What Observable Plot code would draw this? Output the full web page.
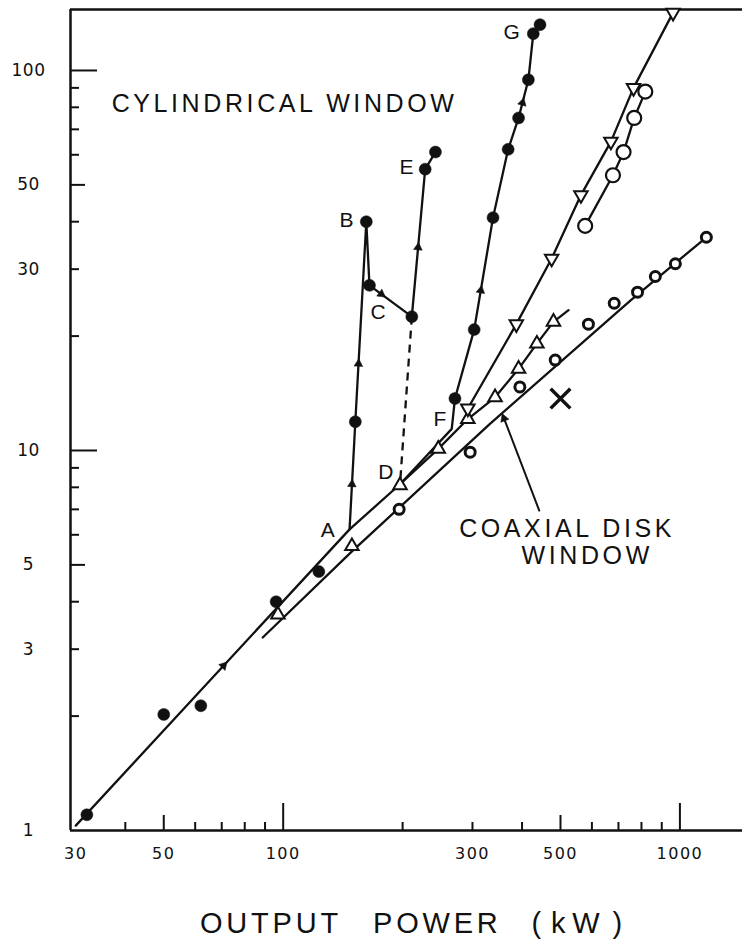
<!DOCTYPE html>
<html>
<head>
<meta charset="utf-8">
<script src="https://cdn.jsdelivr.net/npm/d3@7"></script>
<script src="https://cdn.jsdelivr.net/npm/@observablehq/plot@0.6"></script>
<style>
html,body{margin:0;padding:0;background:#fff;}
#wrap{position:relative;width:742px;height:942px;overflow:hidden;background:#fff;}
#xtitle{position:absolute;top:909px;left:200px;font-family:"Liberation Sans",Arial,sans-serif;font-size:29px;line-height:29px;color:#111;white-space:nowrap;letter-spacing:3.8px;}
#xtitle span{display:inline-block;}
</style>
</head>
<body>
<div id="wrap"><div id="chart"></div><div id="xtitle"><span>OUTPUT</span><span style="margin-left:31px">POWER</span><span style="margin-left:30px">(</span><span style="margin-left:6px">k</span><span style="margin-left:3px">W</span><span style="margin-left:9px">)</span></div></div>
<script>
// ---------- data (output power kW, y value) ----------
const cylLine = [[30,1.03],[147,6.2],[197,8.15],[266,11.4],[271,13.7],[303,20.8],[338,41],[369,62],[392,75],[415,94.5],[427,125],[444,132]];
const branchLine = [[147,6.2],[152,11.9],[162,40],[165,27.2],[211,22.5],[228,55],[242,61]];
const dashLine = [[211,22.5],[197,8.15]];
const upTriLine = [[197,8.15],[246,10.1],[292,12.1],[342,13.8],[392,16.4],[436,19.1],[480,21.8],[524,23.4]];
const downTriLine = [[292,12.9],[387,21.5],[475,32],[563,47],[670,65],[764,90],[961,142]];
const openCircleLine = [[577,39],[678,53],[721,61],[767,75],[818,88]];
const coaxLine = [[88.8,3.22],[148.6,5.41],[332,11.75],[750,24.8],[1166,36.4]];
const pointerLine = [[442,6.95],[358,12.36]];

const filledDots = [[32,1.1],[50,2.02],[62,2.13],[96,4.0],[123,4.8],[152,11.9],[162,40],[165,27.2],[211,22.5],[228,55],[242,61],[271,13.7],[303,20.8],[338,41],[369,62],[392,75],[415,94.5],[427,125],[444,132]];
const upTriDots = [[97,3.7],[149,5.6],[197,8.1],[246,10.1],[292,12.1],[342,13.8],[392,16.4],[436,19.1],[480,21.8]];
const downTriDots = [[292,12.9],[387,21.5],[475,32],[563,47],[670,65],[764,90],[961,142]];
const openCircleDots = [[577,39],[678,53],[721,61],[767,75],[818,88]];
const coaxDots = [[196,7.0],[296,9.9],[395,14.7],[485,17.3],[588,21.5],[683,24.4],[782,26.1],[867,28.7],[974,31],[1166,36.4]];
const crossDots = [[500,13.7]];

// direction arrowheads: [line, segment index, fraction along segment]
const arrowSpecs = [["cyl",0,0.54],["branch",0,0.42],["branch",1,0.29],["branch",3,0.28],["branch",4,0.47],["cyl",5,0.35],["cyl",8,0.4],["pointer",0,0.97]];

const letterLabels = [["A",129.5,6.16],["B",144.4,40.3],["C",173.5,23.1],["D",181.4,8.77],["E",204.7,55.7],["F",248.4,12.1],["G",376.8,126.2]];
const textLabels = [["CYLINDRICAL WINDOW",100.8,81.4],["COAXIAL DISK",519.6,6.23],["WINDOW",583.8,5.29]];

const xTickLabels = [30,50,100,300,500,1000];
const yTickLabels = [1,3,5,10,30,50,100];
const xTicksLong = [100,1000], xTicksMed = [50,500], xTicksSmall = [40,60,70,80,90,200,300,400,600,700,800,900];
const yTicksLong = [10,100], yTicksMed = [5,50], yTicksSmall = [2,3,4,6,7,8,9,20,30,40,60,70,80,90];

// ---------- layout ----------
const W = 742, H = 880, mL = 70, mR = 0, mT = 9, mB = 50;
const xDom = [29.1, 1438], yDom = [1, 144.7];
const plotW = W - mL - mR, plotH = H - mT - mB;
const kx = plotW / Math.log10(xDom[1] / xDom[0]);
const ky = plotH / Math.log10(yDom[1] / yDom[0]);

const toObj = a => a.map(([x, y]) => ({x, y}));
const lines = {cyl: cylLine, branch: branchLine, pointer: pointerLine};
const arrowHeads = arrowSpecs.map(([name, i, t]) => {
  const [x0, y0] = lines[name][i], [x1, y1] = lines[name][i + 1];
  const x = x0 * Math.pow(x1 / x0, t), y = y0 * Math.pow(y1 / y0, t);
  const dxp = kx * Math.log10(x1 / x0), dyp = -ky * Math.log10(y1 / y0);
  return {x, y, angle: Math.atan2(dxp, -dyp) * 180 / Math.PI};
});

const LINE = {x: "x", y: "y", stroke: "#111", strokeWidth: 2.3, strokeLinejoin: "round", strokeLinecap: "round"};
const NUMFONT = "DejaVu Sans";
const TXTFONT = "Liberation Sans";

const plot = Plot.plot({
  width: W, height: H,
  marginLeft: mL, marginRight: mR, marginTop: mT, marginBottom: mB,
  x: {type: "log", domain: xDom, axis: null},
  y: {type: "log", domain: yDom, axis: null},
  style: {background: "white", overflow: "visible"},
  marks: [
    // frame
    Plot.ruleY([yDom[1]], {stroke: "#111", strokeWidth: 2.5}),
    Plot.ruleY([yDom[0]], {stroke: "#111", strokeWidth: 2.5}),
    Plot.ruleX([xDom[0]], {stroke: "#111", strokeWidth: 2.5}),
    // inward ticks
    Plot.ruleX(xTicksLong, {stroke: "#111", strokeWidth: 2, insetTop: plotH - 27}),
    Plot.ruleX(xTicksMed, {stroke: "#111", strokeWidth: 2, insetTop: plotH - 15}),
    Plot.ruleX(xTicksSmall, {stroke: "#111", strokeWidth: 2, insetTop: plotH - 8}),
    Plot.ruleY(yTicksLong, {stroke: "#111", strokeWidth: 2, insetRight: plotW - 27}),
    Plot.ruleY(yTicksMed, {stroke: "#111", strokeWidth: 2, insetRight: plotW - 15}),
    Plot.ruleY(yTicksSmall, {stroke: "#111", strokeWidth: 2, insetRight: plotW - 9}),
    // tick labels (text group 0 and 1)
    Plot.text(xTickLabels, {x: d => d, y: () => yDom[0], dy: 23, text: d => String(d), fontFamily: NUMFONT, fontSize: 16, fill: "#111"}),
    Plot.text(yTickLabels, {x: () => xDom[0], y: d => d, dx: -42, text: d => String(d), fontFamily: NUMFONT, fontSize: 17, fill: "#111", textAnchor: "middle"}),
    // lines
    Plot.line(toObj(cylLine), LINE),
    Plot.line(toObj(branchLine), LINE),
    Plot.line(toObj(dashLine), {...LINE, strokeDasharray: "8,6", strokeLinecap: "butt"}),
    Plot.line(toObj(upTriLine), LINE),
    Plot.line(toObj(downTriLine), LINE),
    Plot.line(toObj(openCircleLine), LINE),
    Plot.line(toObj(coaxLine), LINE),
    Plot.line(toObj(pointerLine), {...LINE, strokeWidth: 2}),
    // markers
    Plot.dot(toObj(coaxDots), {x: "x", y: "y", r: 5, stroke: "#111", strokeWidth: 3, fill: "white"}),
    Plot.dot(toObj(openCircleDots), {x: "x", y: "y", r: 7, stroke: "#111", strokeWidth: 2.2, fill: "white"}),
    Plot.dot(toObj(upTriDots), {x: "x", y: "y", symbol: "triangle", r: 5, stroke: "#111", strokeWidth: 2, fill: "white"}),
    Plot.dot(toObj(downTriDots), {x: "x", y: "y", symbol: "triangle", r: 5, rotate: 180, stroke: "#111", strokeWidth: 2, fill: "white"}),
    Plot.dot(toObj(filledDots), {x: "x", y: "y", r: 6, fill: "#111", stroke: "#111", strokeWidth: 0.5}),
    Plot.dot(toObj(crossDots), {x: "x", y: "y", symbol: "times", r: 9, stroke: "#111", strokeWidth: 3.5}),
    Plot.dot(arrowHeads, {x: "x", y: "y", symbol: "triangle", r: 3.2, rotate: "angle", fill: "#111", stroke: "#111", strokeWidth: 0.5}),
    // annotations (text group 2 and 3)
    Plot.text(letterLabels, {x: d => d[1], y: d => d[2], text: d => d[0], fontFamily: TXTFONT, fontSize: 21, fill: "#111"}),
    Plot.text(textLabels, {x: d => d[1], y: d => d[2], text: d => d[0], fontFamily: TXTFONT, fontSize: 25, fill: "#111"})
  ]
});

const textGroups = plot.querySelectorAll('g[aria-label="text"]');
const spacing = ["1.5px", "0.5px", "0px", "3.6px"];
textGroups.forEach((g, i) => {
  if (spacing[i]) g.querySelectorAll("text").forEach(t => t.style.letterSpacing = spacing[i]);
});
document.getElementById("chart").append(plot);
</script>
</body>
</html>
